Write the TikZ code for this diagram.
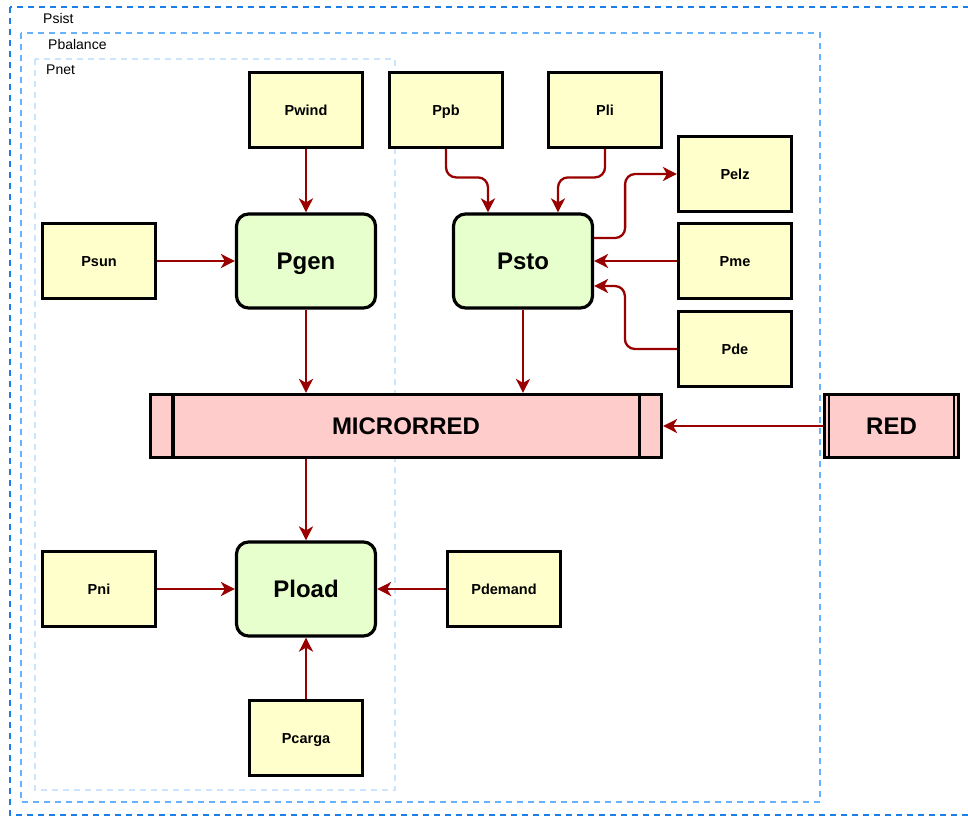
\documentclass[tikz,border=0pt]{standalone}
\usepackage{fontspec}
\setmainfont{Liberation Sans}
\usetikzlibrary{arrows.meta,calc}
\definecolor{yfill}{HTML}{FFFFCC}
\definecolor{gfill}{HTML}{E6FFCC}
\definecolor{rfill}{HTML}{FFCCCC}
\definecolor{arrred}{HTML}{990000}
\definecolor{bsist}{HTML}{1A7FE6}
\definecolor{bbal}{HTML}{66B2FF}
\definecolor{bnet}{HTML}{CCE5FF}
\tikzset{
  ybox/.style={draw, line width=3.2pt, fill=yfill, minimum width=113pt, minimum height=75pt, inner sep=0pt, text height=10.5pt, text depth=0pt, font=\fontsize{14.5}{16}\selectfont\bfseries},
  gbox/.style={draw, line width=3.2pt, fill=gfill, rounded corners=12pt, minimum width=139pt, minimum height=94pt, inner sep=0pt, text height=17pt, text depth=0pt, font=\fontsize{24}{28}\selectfont\bfseries},
  rbox/.style={draw, line width=3.2pt, fill=rfill, minimum height=63pt, inner sep=0pt, text height=17pt, text depth=0pt, font=\fontsize{24}{28}\selectfont\bfseries},
  arr/.style={draw=arrred, line width=2.3pt, -{Stealth[length=14pt,width=14pt,inset=4pt]}},
  grp/.style={line width=2pt, dash pattern=on 6pt off 5pt},
  grplabel/.style={anchor=west, inner sep=0pt, font=\fontsize{14}{16}\selectfont}
}
\begin{document}
\begin{tikzpicture}[x=1pt,y=-1pt]
\clip (0,0) rectangle (968,816);
\fill[white] (0,0) rectangle (968,816);
% group borders
\draw[grp, bsist] (10,7) rectangle (985,815);
\draw[grp, bbal] (21,33) rectangle (820,802);
\draw[grp, bnet] (35,59) rectangle (395,790);
\node[grplabel] (lsist) at (43,18) {Psist};
\node[grplabel] (lbal) at (48,44) {Pbalance};
\node[grplabel] (lnet) at (46,70) {Pnet};
% yellow boxes
\node[ybox] (pwind) at (306,110) {Pwind};
\node[ybox] (ppb) at (446,110) {Ppb};
\node[ybox] (pli) at (605,110) {Pli};
\node[ybox] (pelz) at (735,174) {Pelz};
\node[ybox] (pme) at (735,261) {Pme};
\node[ybox] (pde) at (735,349) {Pde};
\node[ybox] (psun) at (99,261) {Psun};
\node[ybox] (pni) at (99,589) {Pni};
\node[ybox] (pdemand) at (504,589) {Pdemand};
\node[ybox] (pcarga) at (306,738) {Pcarga};
% green boxes
\node[gbox] (pgen) at (306,261) {Pgen};
\node[gbox] (psto) at (523,261) {Psto};
\node[gbox] (pload) at (306,589) {Pload};
% red boxes
\node[rbox, minimum width=511pt] (mr) at (406,426) {MICRORRED};
\draw[line width=3.2pt] ($(mr.north west)+(24,0)$) -- ($(mr.south west)+(24,0)$);
\draw[line width=3.2pt] ($(mr.north east)+(-24,0)$) -- ($(mr.south east)+(-24,0)$);
\node[rbox, minimum width=134pt] (red) at (891.5,426) {RED};
\draw[line width=2.2pt] ($(red.north west)+(6,0)$) -- ($(red.south west)+(6,0)$);
\draw[line width=2.2pt] ($(red.north east)+(-6,0)$) -- ($(red.south east)+(-6,0)$);
% arrows
\draw[arr] (pwind.south) -- (pgen.north);
\draw[arr] (psun.east) -- (pgen.west);
\draw[arr] (pgen.south) -- (mr.north -| pgen.south);
\draw[arr, rounded corners=10pt] (ppb.south) |- ($(psto.north)+(-35,-35)$) -- ($(psto.north)+(-35,0)$);
\draw[arr, rounded corners=10pt] (pli.south) |- ($(psto.north)+(35,-35)$) -- ($(psto.north)+(35,0)$);
\draw[arr, rounded corners=10pt] ($(psto.east)+(0,-23)$) -- ++(31,0) |- (pelz.west);
\draw[arr] (pme.west) -- (psto.east);
\draw[arr, rounded corners=10pt] (pde.west) -- ++(-52,0) |- ($(psto.east)+(0,25)$);
\draw[arr] (psto.south) -- (mr.north -| psto.south);
\draw[arr] (red.west) -- (mr.east);
\draw[arr] (mr.south -| pload.north) -- (pload.north);
\draw[arr] (pni.east) -- (pload.west);
\draw[arr] (pdemand.west) -- (pload.east);
\draw[arr] (pcarga.north) -- (pload.south);
\end{tikzpicture}
\end{document}
